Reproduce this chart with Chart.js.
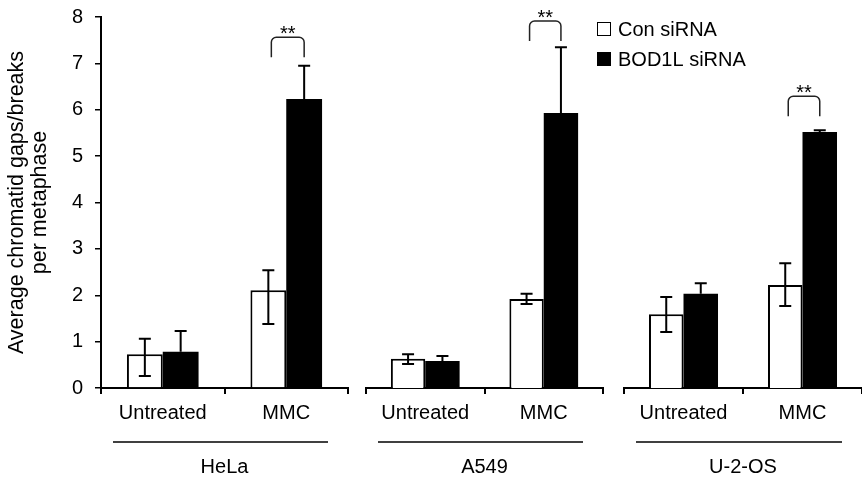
<!DOCTYPE html>
<html>
<head>
<meta charset="utf-8" />
<title>Chromatid gaps/breaks</title>
<script src="https://cdn.jsdelivr.net/npm/chart.js@4.4.0/dist/chart.umd.min.js"></script>
<style>
  body { margin: 0; background: #fff; }
  #wrap { position: relative; width: 862px; height: 479px; }
  .panel { position: absolute; top: 0; height: 479px; }
</style>
</head>
<body>
<div id="wrap">
  <div class="panel" id="p0" style="left:0px;width:351px"><canvas id="c0"></canvas></div>
  <div class="panel" id="p1" style="left:363px;width:243px"><canvas id="c1"></canvas></div>
  <div class="panel" id="p2" style="left:590px;width:272px"><canvas id="c2"></canvas></div>
</div>
<script>
// data
const cellLines = ['HeLa', 'A549', 'U-2-OS'];
const treatments = ['Untreated', 'MMC'];
const seriesNames = ['Con siRNA', 'BOD1L siRNA'];

// order: HeLa Untr, HeLa MMC, A549 Untr, A549 MMC, U-2-OS Untr, U-2-OS MMC
const conMean = [0.73, 2.11, 0.63, 1.92, 1.59, 2.22];
const conLow  = [0.26, 1.38, 0.52, 1.81, 1.21, 1.77];
const conHigh = [1.06, 2.54, 0.73, 2.03, 1.96, 2.69];
const bodMean = [0.78, 6.23, 0.58, 5.93, 2.03, 5.52];
const bodHigh = [1.23, 6.95, 0.69, 7.35, 2.26, 5.56];

// significance bracket (MMC con vs BOD1L), base of the legs per cell line
const sigBase  = [7.13, 7.48, 5.86];
const sigLabel = ['**', '**', '**'];

const yMin = 0, yMax = 8, yStep = 1;
const yTitle = ['Average chromatid gaps/breaks', 'per metaphase'];

const FONT = "'Liberation Sans', Arial, sans-serif";

function drawErr(ctx, x, yLo, yHi, lowCap) {
  const w = 6;
  ctx.beginPath();
  ctx.moveTo(x, yLo); ctx.lineTo(x, yHi);
  ctx.moveTo(x - w, yHi); ctx.lineTo(x + w, yHi);
  if (lowCap) { ctx.moveTo(x - w, yLo); ctx.lineTo(x + w, yLo); }
  ctx.stroke();
}

const extras = {
  id: 'extras',
  afterDatasetsDraw(chart, args, opts) {
    const ctx = chart.ctx;
    const y = chart.scales.y;
    const xs = chart.scales.x;
    const g = opts.group;
    const con = chart.getDatasetMeta(0).data;
    const bod = chart.getDatasetMeta(1).data;
    ctx.save();
    ctx.strokeStyle = '#000';
    ctx.lineWidth = 2;
    con.forEach(function (bar, j) {
      const k = g * 2 + j;
      drawErr(ctx, bar.x, y.getPixelForValue(conLow[k]), y.getPixelForValue(conHigh[k]), true);
    });
    bod.forEach(function (bar, j) {
      const k = g * 2 + j;
      drawErr(ctx, bar.x, bar.y, y.getPixelForValue(bodHigh[k]), false);
    });

    // bracket with stars
    const x1 = con[1].x + 3, x2 = bod[1].x;
    const yb = y.getPixelForValue(sigBase[g]);
    const yt = yb - 20;
    ctx.lineWidth = 1.5;
    ctx.strokeStyle = '#222';
    ctx.beginPath();
    ctx.moveTo(x1, yb);
    ctx.arcTo(x1, yt, x2, yt, 5);
    ctx.arcTo(x2, yt, x2, yb, 5);
    ctx.lineTo(x2, yb);
    ctx.stroke();
    ctx.fillStyle = '#000';
    ctx.font = '20px ' + FONT;
    ctx.textAlign = 'center';
    ctx.textBaseline = 'alphabetic';
    ctx.fillText(sigLabel[g], (x1 + x2) / 2, yt + 3);

    // line between treatment labels and cell line label
    const ly = xs.top + 54;
    ctx.lineWidth = 1.5;
    ctx.strokeStyle = '#000';
    ctx.beginPath();
    ctx.moveTo(chart.chartArea.left + 12, ly);
    ctx.lineTo(chart.chartArea.right - 20, ly);
    ctx.stroke();

    // legend
    if (opts.legend) {
      const lx = chart.chartArea.left - 27;
      const rows = [29, 59];
      chart.data.datasets.forEach(function (ds, i) {
        const cy = rows[i];
        ctx.fillStyle = ds.backgroundColor;
        ctx.fillRect(lx, cy - 7, 14, 14);
        ctx.lineWidth = 1;
        ctx.strokeStyle = '#000';
        ctx.strokeRect(lx + 0.5, cy - 6.5, 13, 13);
        ctx.fillStyle = '#000';
        ctx.font = '20px ' + FONT;
        ctx.textAlign = 'left';
        ctx.textBaseline = 'middle';
        ctx.fillText(ds.label, lx + 21, cy + 1);
      });
    }
    ctx.restore();
  }
};

function makeChart(g, pad, showY, legend) {
  const ctx = document.getElementById('c' + g);
  const yOpts = {
    display: showY,
    min: yMin,
    max: yMax,
    border: { display: true, color: '#000', width: 2 },
    grid: { display: true, drawOnChartArea: false, drawTicks: true, tickLength: 6, color: '#000', lineWidth: 1.5 },
    ticks: { stepSize: yStep, color: '#000', font: { family: FONT, size: 20 }, padding: 12 },
    title: { display: showY, text: yTitle, color: '#000', font: { family: FONT, size: 21.5, lineHeight: 1.1 }, padding: { top: 5, bottom: 0 } }
  };
  if (showY) {
    yOpts.afterFit = function (s) {
      s.width = 101;
      s.paddingTop = 0;
      s.paddingBottom = 0;
    };
  }
  return new Chart(ctx, {
    type: 'bar',
    data: {
      labels: treatments,
      datasets: [{
        label: seriesNames[0],
        data: conMean.slice(g * 2, g * 2 + 2),
        backgroundColor: '#ffffff',
        borderColor: '#000000',
        borderWidth: 2,
        barPercentage: 1,
        categoryPercentage: 0.58
      }, {
        label: seriesNames[1],
        data: bodMean.slice(g * 2, g * 2 + 2),
        backgroundColor: '#000000',
        borderColor: '#000000',
        borderWidth: 0,
        barPercentage: 1,
        categoryPercentage: 0.58
      }]
    },
    options: {
      responsive: true,
      maintainAspectRatio: false,
      animation: false,
      layout: { padding: pad },
      plugins: {
        legend: { display: false },
        tooltip: { enabled: false },
        extras: { group: g, legend: legend }
      },
      scales: {
        x: {
          border: { display: true, color: '#000', width: 2 },
          grid: { display: true, drawOnChartArea: false, drawTicks: true, tickLength: 6, color: '#000', lineWidth: 2, offset: true },
          ticks: { color: '#000', font: { family: FONT, size: 20 }, padding: 7, maxRotation: 0, minRotation: 0, autoSkip: false },
          title: { display: true, text: cellLines[g], color: '#000', font: { family: FONT, size: 20 }, padding: { top: 23, bottom: 0 } }
        },
        y: yOpts
      }
    },
    plugins: [extras]
  });
}

makeChart(0, { top: 17, right: 3, bottom: 0, left: 0 }, true, false);
makeChart(1, { top: 17, right: 3, bottom: 0, left: 3 }, false, false);
makeChart(2, { top: 17, right: 0, bottom: 0, left: 34 }, false, true);
</script>
</body>
</html>
